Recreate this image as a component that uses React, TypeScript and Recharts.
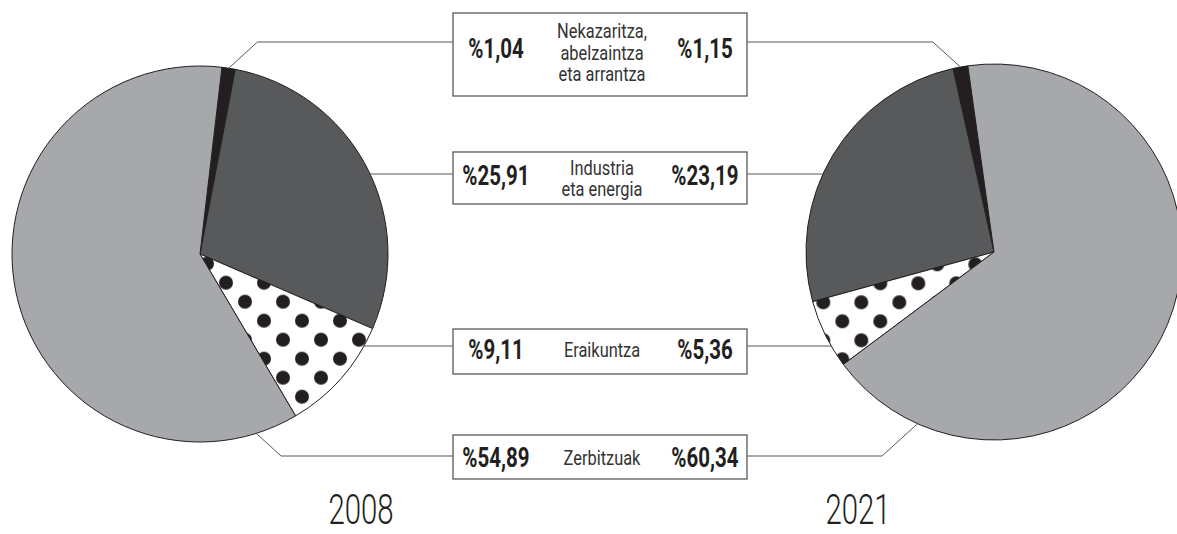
import { PieChart, Pie, Cell } from "recharts"

// sectors, 2008 vs 2021 (shares as printed, they don't add up to 100)
const categories = [
  "Nekazaritza, abelzaintza eta arrantza",
  "Industria eta energia",
  "Eraikuntza",
  "Zerbitzuak"
]
const categoryLines = [
  ["Nekazaritza,", "abelzaintza", "eta arrantza"],
  ["Industria", "eta energia"],
  ["Eraikuntza"],
  ["Zerbitzuak"]
]
const values2008 = [1.04, 25.91, 9.11, 54.89]
const values2021 = [1.15, 23.19, 5.36, 60.34]
const years = ["2008", "2021"]

const W = 1177
const H = 534
const R = 188
const FONT = "Roboto, 'Liberation Sans', sans-serif"
const INK = "#231f20"
const LINE = "#58595b"

// layout of the middle boxes
const BOX_L = 453
const BOX_R = 747
const rowLineY = [42, 174, 346, 456]
const boxes = [
  { y: 13, h: 83, valueY: 58, labelY: [38, 60, 81] },
  { y: 152, h: 52, valueY: 185, labelY: [175, 196] },
  { y: 329, h: 45, valueY: 359, labelY: [357] },
  { y: 435, h: 44, valueY: 467, labelY: [465] }
]

// where each leader line leaves the pie: "mid" = slice middle, "h" = straight across, number = deg clockwise from north
const leftAnchors: (string | number)[] = ["mid", "h", "h", 162.6]
const rightAnchors: (string | number)[] = ["mid", "h", "h", 204]

const RAD = Math.PI / 180

const fmt = (v: number) => "%" + v.toFixed(2).replace(".", ",")

function leader(anchors: (string | number)[], edgeX: number) {
  return (p: any) => {
    const { cx, cy, outerRadius: r, midAngle, index } = p
    const rowY = rowLineY[index]
    const a = anchors[index]
    const dir = edgeX > cx ? 1 : -1
    let pts: number[][]
    if (a === "h") {
      const dy = rowY - cy
      const x = cx + dir * Math.sqrt(r * r - dy * dy)
      pts = [[x, rowY], [edgeX, rowY]]
    } else {
      const ang = a === "mid" ? midAngle : 90 - (a as number)
      const sx = cx + r * Math.cos(-ang * RAD)
      const sy = cy + r * Math.sin(-ang * RAD)
      const ex = sx + dir * Math.abs(sy - rowY) * 1.1
      pts = [[sx, sy], [ex, rowY], [edgeX, rowY]]
    }
    return (
      <polyline
        key={"leader-" + edgeX + "-" + index}
        points={pts.map((q) => q.join(",")).join(" ")}
        fill="none"
        stroke={LINE}
        strokeWidth={1}
      />
    )
  }
}

function DotPattern({ id, x, y }: { id: string; x: number; y: number }) {
  return (
    <pattern id={id} patternUnits="userSpaceOnUse" x={x} y={y} width={38} height={38}>
      <rect width={38} height={38} fill="#fff" />
      {[[0, 0], [38, 0], [0, 38], [38, 38], [19, 19]].map(([px, py], i) => (
        <circle key={i} cx={px} cy={py} r={7} fill={INK} />
      ))}
    </pattern>
  )
}

export default function App() {
  const data2008 = values2008.map((v, i) => ({ name: categories[i], value: v }))
  const data2021 = values2021.map((v, i) => ({ name: categories[i], value: v }))

  const fillsL = [INK, "#58595b", "url(#dotsL)", "#a7a8ab"]
  const fillsR = [INK, "#58595b", "url(#dotsR)", "#a7a8ab"]

  return (
    <div style={{ position: "absolute", left: 0, top: 0, width: W, height: H, background: "#fff", overflow: "hidden" }}>

      <PieChart width={W} height={H} margin={{ top: 0, right: 0, bottom: 0, left: 0 }}>
        <defs>
          <DotPattern id="dotsL" x={17} y={35.7} />
          <DotPattern id="dotsR" x={6.3} y={17.3} />
        </defs>

        <Pie
          data={data2008}
          dataKey="value"
          cx={200}
          cy={254}
          outerRadius={R}
          startAngle={83.3}
          endAngle={-276.7}
          stroke={INK}
          strokeWidth={1}
          label={leader(leftAnchors, BOX_L)}
          labelLine={false}
          isAnimationActive={false}
        >
          {data2008.map((_, i) => (
            <Cell key={i} fill={fillsL[i]} stroke={INK} strokeWidth={1} />
          ))}
        </Pie>

        <Pie
          data={data2021}
          dataKey="value"
          cx={994}
          cy={252}
          outerRadius={R}
          startAngle={98}
          endAngle={458}
          stroke={INK}
          strokeWidth={1}
          label={leader(rightAnchors, BOX_R)}
          labelLine={false}
          isAnimationActive={false}
        >
          {data2021.map((_, i) => (
            <Cell key={i} fill={fillsR[i]} stroke={INK} strokeWidth={1} />
          ))}
        </Pie>
      </PieChart>

      {/* boxes, labels and years */}
      <svg width={W} height={H} style={{ position: "absolute", left: 0, top: 0, pointerEvents: "none" }}>
        {boxes.map((b, i) => (
          <g key={i} fontFamily={FONT}>
            <rect x={BOX_L} y={b.y} width={BOX_R - BOX_L} height={b.h} fill="#fff" stroke={LINE} strokeWidth={1.3} />
            <text
              transform={`translate(496,${b.valueY}) scale(0.76,1)`}
              textAnchor="middle"
              fontSize={27}
              fontWeight={700}
              fill={INK}
            >
              {fmt(values2008[i])}
            </text>
            <text
              transform={`translate(705,${b.valueY}) scale(0.76,1)`}
              textAnchor="middle"
              fontSize={27}
              fontWeight={700}
              fill={INK}
            >
              {fmt(values2021[i])}
            </text>
            {categoryLines[i].map((t, j) => (
              <text
                key={j}
                transform={`translate(602,${b.labelY[j]}) scale(0.82,1)`}
                textAnchor="middle"
                fontSize={20}
                fontWeight={400}
                fill="#333"
              >
                {t}
              </text>
            ))}
          </g>
        ))}

        {years.map((y, i) => (
          <text
            key={y}
            transform={`translate(${i === 0 ? 361 : 858},524) scale(0.7,1)`}
            textAnchor="middle"
            fontFamily={FONT}
            fontSize={42}
            fontWeight={300}
            fill={INK}
          >
            {y}
          </text>
        ))}
      </svg>

    </div>
  )
}
